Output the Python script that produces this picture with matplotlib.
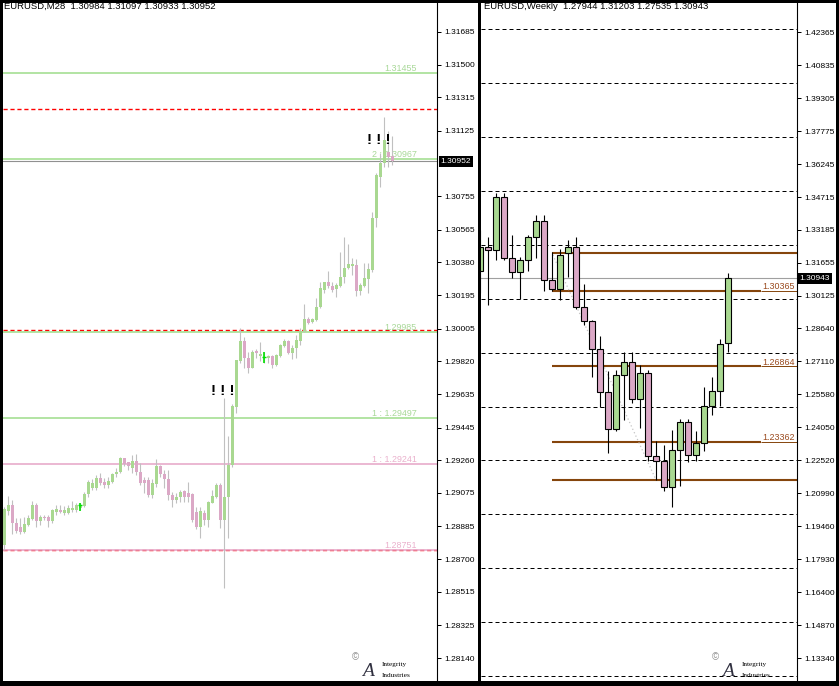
"""Two MT4-style candlestick panels: EURUSD M28 (left) and Weekly (right)."""
import matplotlib
matplotlib.use('Agg')
import matplotlib.pyplot as plt
from matplotlib.patches import Rectangle

plt.rcParams['font.family'] = ['Liberation Sans', 'DejaVu Sans']

# ---------------- left panel data (EURUSD, M28) ----------------
m28_open = [1.28780, 1.28974, 1.29006, 1.28903, 1.28880, 1.28855, 1.28893, 1.28927, 1.29006, 1.28918,
            1.28940, 1.28940, 1.28916, 1.28969, 1.28978, 1.28959, 1.28959, 1.28978, 1.28978, 1.28988,
            1.29003, 1.29069, 1.29101, 1.29101, 1.29157, 1.29139, 1.29120, 1.29139, 1.29180, 1.29191,
            1.29271, 1.29248, 1.29214, 1.29256, 1.29195, 1.29148, 1.29148, 1.29063, 1.29123, 1.29227,
            1.29180, 1.29152, 1.29063, 1.29035, 1.29050, 1.29088, 1.29072, 1.29069, 1.28969, 1.28880,
            1.28963, 1.28921, 1.29020, 1.29054, 1.29120, 1.28921, 1.29050, 1.29233, 1.29563, 1.29822,
            1.29935, 1.29837, 1.29784, 1.29880, 1.29850, 1.29837, 1.29837, 1.29850, 1.29799, 1.29850,
            1.29907, 1.29935, 1.29865, 1.29894, 1.29937, 1.29992, 1.30058, 1.30045, 1.30054, 1.30126,
            1.30224, 1.30267, 1.30249, 1.30230, 1.30249, 1.30299, 1.30347, 1.30360, 1.30366, 1.30218,
            1.30249, 1.30286, 1.30337, 1.30630, 1.30866, 1.30941, 1.31007, 1.30984]
m28_high = [1.28997, 1.29057, 1.29035, 1.28935, 1.28931, 1.28937, 1.28950, 1.29029, 1.29016, 1.28950,
            1.28950, 1.28950, 1.28984, 1.29006, 1.29006, 1.29001, 1.29006, 1.29029, 1.29016, 1.29016,
            1.29082, 1.29148, 1.29152, 1.29176, 1.29186, 1.29157, 1.29167, 1.29186, 1.29218, 1.29280,
            1.29274, 1.29252, 1.29290, 1.29293, 1.29246, 1.29167, 1.29167, 1.29152, 1.29265, 1.29233,
            1.29205, 1.29205, 1.29082, 1.29072, 1.29091, 1.29091, 1.29139, 1.29072, 1.28997, 1.28997,
            1.28978, 1.29029, 1.29091, 1.29129, 1.29133, 1.29610, 1.29397, 1.29580, 1.29830, 1.30007,
            1.29960, 1.29875, 1.29884, 1.29888, 1.29931, 1.29875, 1.29856, 1.29856, 1.29862, 1.29918,
            1.29945, 1.29941, 1.29912, 1.29969, 1.30007, 1.30145, 1.30069, 1.30064, 1.30177, 1.30271,
            1.30271, 1.30333, 1.30271, 1.30262, 1.30441, 1.30526, 1.30484, 1.30403, 1.30398, 1.30262,
            1.30375, 1.30375, 1.30668, 1.30885, 1.30998, 1.31206, 1.31124, 1.31097]
m28_low = [1.28752, 1.28950, 1.28842, 1.28846, 1.28840, 1.28850, 1.28887, 1.28921, 1.28884, 1.28893,
           1.28921, 1.28884, 1.28906, 1.28950, 1.28959, 1.28950, 1.28955, 1.28969, 1.28969, 1.28978,
           1.28997, 1.29054, 1.29091, 1.29091, 1.29120, 1.29101, 1.29101, 1.29129, 1.29167, 1.29186,
           1.29227, 1.29205, 1.29186, 1.29176, 1.29120, 1.29072, 1.29050, 1.29044, 1.29110, 1.29167,
           1.29101, 1.29035, 1.28997, 1.29016, 1.29025, 1.29025, 1.29025, 1.28912, 1.28869, 1.28818,
           1.28893, 1.28884, 1.29016, 1.29048, 1.28874, 1.28535, 1.28818, 1.29220, 1.29529, 1.29812,
           1.29780, 1.29752, 1.29780, 1.29841, 1.29824, 1.29812, 1.29812, 1.29780, 1.29794, 1.29843,
           1.29899, 1.29860, 1.29831, 1.29837, 1.29912, 1.29988, 1.30031, 1.30039, 1.30050, 1.30120,
           1.30205, 1.30233, 1.30215, 1.30186, 1.30243, 1.30265, 1.30341, 1.30309, 1.30192, 1.30196,
           1.30239, 1.30205, 1.30328, 1.30583, 1.30805, 1.30922, 1.30922, 1.30933]
m28_close = [1.28984, 1.29006, 1.28903, 1.28861, 1.28855, 1.28897, 1.28931, 1.29006, 1.28918, 1.28940,
             1.28931, 1.28916, 1.28978, 1.28982, 1.28969, 1.28978, 1.28988, 1.28988, 1.29006, 1.29006,
             1.29069, 1.29139, 1.29133, 1.29157, 1.29133, 1.29120, 1.29144, 1.29180, 1.29191, 1.29274,
             1.29239, 1.29227, 1.29256, 1.29195, 1.29129, 1.29129, 1.29063, 1.29129, 1.29227, 1.29180,
             1.29152, 1.29063, 1.29035, 1.29054, 1.29082, 1.29050, 1.29050, 1.28921, 1.28880, 1.28974,
             1.28921, 1.29025, 1.29059, 1.29120, 1.28921, 1.29050, 1.29233, 1.29567, 1.29828, 1.29935,
             1.29837, 1.29784, 1.29875, 1.29865, 1.29860, 1.29846, 1.29850, 1.29799, 1.29856, 1.29912,
             1.29935, 1.29865, 1.29894, 1.29941, 1.29992, 1.30058, 1.30039, 1.30058, 1.30126, 1.30233,
             1.30267, 1.30249, 1.30224, 1.30252, 1.30299, 1.30347, 1.30371, 1.30371, 1.30218, 1.30252,
             1.30290, 1.30341, 1.30630, 1.30875, 1.30945, 1.31073, 1.30979, 1.30952]

m28_ticks = [1.31685, 1.31500, 1.31315, 1.31125, 1.30755, 1.30565, 1.30380, 1.30195, 1.30005, 1.29820,
             1.29635, 1.29445, 1.29260, 1.29075, 1.28885, 1.28700, 1.28515, 1.28325, 1.28140]
m28_last = 1.30952
m28_round_levels = [1.3125, 1.3000, 1.2875]
m28_green_levels = [1.31455, 1.30967, 1.29985, 1.29497]
m28_green_labels = ['1.31455', '2 : 1.30967', '1.29985', '1 : 1.29497']
m28_pink_levels = [1.29241, 1.28751]
m28_pink_labels = ['1 : 1.29241', '1.28751']
# groups of three warning marks (centre bar index, price of baseline)
m28_warn_x = [54.8, 93.75]
m28_warn_y = [1.29629, 1.31050]
m28_arrow_x = [19, 65]
m28_arrow_top = [1.29019, 1.29875]
m28_arrow_bottom = [1.28974, 1.29812]
m28_arrow_cross = [1.29006, 1.29846]

# ---------------- right panel data (EURUSD, Weekly) ----------------
w_open = [1.31275, 1.32390, 1.32250, 1.34711, 1.31879, 1.31229, 1.31786, 1.32854, 1.33597, 1.30857,
          1.30440, 1.32111, 1.32390, 1.29604, 1.28954, 1.27654, 1.25657, 1.23939, 1.26447, 1.27050,
          1.25332, 1.26540, 1.22686, 1.22454, 1.21246, 1.22964, 1.24264, 1.22732, 1.23289, 1.25007,
          1.25704, 1.27944]
w_high = [1.33179, 1.32854, 1.34897, 1.34897, 1.32947, 1.31925, 1.32947, 1.33875, 1.33875, 1.32158,
          1.32297, 1.32715, 1.32854, 1.30672, 1.29000, 1.28257, 1.26632, 1.26679, 1.27515, 1.27515,
          1.26911, 1.26679, 1.23382, 1.23197, 1.23893, 1.24404, 1.24404, 1.23847, 1.25890, 1.26354,
          1.28118, 1.31203]
w_low = [1.30254, 1.29697, 1.31786, 1.31786, 1.30950, 1.29975, 1.31275, 1.31879, 1.30347, 1.30347,
         1.29929, 1.30997, 1.29511, 1.28768, 1.26354, 1.24961, 1.22825, 1.23847, 1.24357, 1.25147,
         1.23986, 1.22454, 1.21571, 1.21061, 1.20364, 1.21293, 1.22407, 1.22454, 1.22918, 1.24589,
         1.25007, 1.27535]
w_close = [1.32390, 1.32250, 1.34711, 1.31879, 1.31229, 1.31786, 1.32854, 1.33597, 1.30857, 1.30440,
           1.32018, 1.32390, 1.29604, 1.28954, 1.27654, 1.25657, 1.23939, 1.26447, 1.27050, 1.25332,
           1.26540, 1.22686, 1.22454, 1.21246, 1.22964, 1.24264, 1.22732, 1.23289, 1.25007, 1.25704,
           1.27886, 1.30943]

w_ticks = [1.42365, 1.40835, 1.39305, 1.37775, 1.36245, 1.34715, 1.33185, 1.31655, 1.30125, 1.28640,
           1.27110, 1.25580, 1.24050, 1.22520, 1.20990, 1.19460, 1.17930, 1.16400, 1.14870, 1.13340]
w_last = 1.30943
w_grid = [1.425, 1.400, 1.375, 1.350, 1.325, 1.300, 1.275, 1.250, 1.225, 1.200, 1.175, 1.150, 1.125]
w_levels = [1.32140, 1.30365, 1.26864, 1.23362, 1.21600]
w_level_labels = ['', '1.30365', '1.26864', '1.23362', '']
w_swing_x = [9.1, 22.0]
w_swing_y = [1.32030, 1.21600]

GREEN = '#a9d891'
PINK = '#dba8c6'
BROWN = '#85450c'
W, H = 839, 686


def box(x0, y0, x1, y1):
    return [x0 / W, 1 - y1 / H, (x1 - x0) / W, (y1 - y0) / H]


def candles(ax, o, h, l, c, width, wick, edge, lw):
    xs = list(range(len(o)))
    cols = [GREEN if cc >= oo else PINK for oo, cc in zip(o, c)]
    ax.vlines(xs, l, h, color=wick, lw=lw, zorder=3)
    ax.bar(xs, [cc - oo for oo, cc in zip(o, c)], bottom=o, width=width,
           color=cols, edgecolor=edge, linewidth=lw if edge != 'none' else 0, zorder=4)


def style_axis(ax, ticks, pad):
    for s in ['left', 'top', 'bottom']:
        ax.spines[s].set_visible(False)
    ax.spines['right'].set_linewidth(0.8)
    ax.set_xticks([])
    ax.yaxis.tick_right()
    ax.set_yticks(ticks)
    ax.set_yticklabels([f'{t:.5f}' for t in ticks])
    ax.tick_params(axis='y', direction='out', length=3, width=0.72, pad=pad,
                   labelsize=6, colors='black')


fig = plt.figure(figsize=(W / 100, H / 100), dpi=100, facecolor='black')
# white label strips behind the axes
fig.patches.append(Rectangle((3 / W, 1 - 681 / H), 475 / W, 678 / H, zorder=-5,
                             transform=fig.transFigure, facecolor='white', edgecolor='none'))
fig.patches.append(Rectangle((481 / W, 1 - 681 / H), 355 / W, 678 / H, zorder=-5,
                             transform=fig.transFigure, facecolor='white', edgecolor='none'))

# ---------- left ----------
ax = fig.add_axes(box(3, 3, 437, 681))
ax.set_xlim(-0.25, 108.25)
ax.set_ylim(1.28010, 1.31849)
for lv in m28_round_levels:
    ax.axhline(lv, color='#ff0000', lw=1.0, ls=(0, (3, 2)), zorder=1)
for lv, lab in zip(m28_green_levels, m28_green_labels):
    ax.axhline(lv, color='#9edc8a', lw=1.1, zorder=1)
    ax.annotate(lab, (0.954, lv), xycoords=ax.get_yaxis_transform(), xytext=(0, 1.5),
                textcoords='offset points', ha='right', va='baseline', fontsize=6.4,
                color='#a8d898', zorder=2)
for lv, lab in zip(m28_pink_levels, m28_pink_labels):
    ax.axhline(lv, color='#e6a4c6', lw=1.1, zorder=1)
    ax.annotate(lab, (0.954, lv), xycoords=ax.get_yaxis_transform(), xytext=(0, 1.5),
                textcoords='offset points', ha='right', va='baseline', fontsize=6.4,
                color='#eab0cc', zorder=2)
ax.axhline(m28_last, color='#909090', lw=0.8, zorder=2)
candles(ax, m28_open, m28_high, m28_low, m28_close, 0.75, '#c0c0c0', 'none', 0.8)
ax.vlines(m28_arrow_x, m28_arrow_bottom, m28_arrow_top, color='#00e000', lw=1.2, zorder=5)
for xx, yy in zip(m28_arrow_x, m28_arrow_cross):
    ax.hlines(yy, xx - 0.4, xx + 0.4, color='#00e000', lw=1.0, zorder=5)
for xx, yy in zip(m28_warn_x, m28_warn_y):
    ax.text(xx, yy, '! ! !', ha='center', va='baseline', fontsize=11, fontweight='bold',
            color='black', zorder=6)
style_axis(ax, m28_ticks, 2.5)
ax.annotate(f'{m28_last:.5f}', (1.0, m28_last), xycoords=ax.get_yaxis_transform(),
            xytext=(2.6, 0), textcoords='offset points', ha='left', va='center',
            fontsize=6, color='white', annotation_clip=False,
            bbox=dict(boxstyle='square,pad=0.25', facecolor='black', edgecolor='none'))

# ---------- right ----------
ax2 = fig.add_axes(box(481, 3, 797, 681))
ax2.set_xlim(0.125, 39.625)
ax2.set_ylim(1.12274, 1.43710)
for lv in w_grid:
    ax2.axhline(lv, color='black', lw=0.72, ls=(0, (4, 3)), zorder=1)
ax2.axhline(w_last, color='#a0a0a0', lw=0.8, zorder=2)
for lv, lab in zip(w_levels, w_level_labels):
    if lab:
        ax2.hlines(lv, 9, 35.1, color=BROWN, lw=1.5, zorder=2)
        ax2.hlines(lv, 35.1, 39.625, color=BROWN, lw=0.7, zorder=2)
        ax2.annotate(lab, (0.9937, lv), xycoords=ax2.get_yaxis_transform(), xytext=(0, 1.2),
                     textcoords='offset points', ha='right', va='baseline', fontsize=6.4,
                     color='#9a4a1e', zorder=2)
    else:
        ax2.hlines(lv, 9, 39.625, color=BROWN, lw=1.5, zorder=2)
ax2.plot(w_swing_x, w_swing_y, color='#c4c4c4', lw=0.9, ls=(0, (1, 2)), zorder=2)
candles(ax2, w_open, w_high, w_low, w_close, 0.72, 'black', 'black', 0.8)
style_axis(ax2, w_ticks, 2.0)
ax2.annotate(f'{w_last:.5f}', (1.0, w_last), xycoords=ax2.get_yaxis_transform(),
             xytext=(2.0, 0), textcoords='offset points', ha='left', va='center',
             fontsize=6, color='white', annotation_clip=False,
             bbox=dict(boxstyle='square,pad=0.25', facecolor='black', edgecolor='none'))

# titles
fig.text(4 / W, 1 - 2 / H, 'EURUSD,M28  1.30984 1.31097 1.30933 1.30952',
         ha='left', va='top', fontsize=6.8, color='black')
fig.text(484 / W, 1 - 2 / H, 'EURUSD,Weekly  1.27944 1.31203 1.27535 1.30943',
         ha='left', va='top', fontsize=6.8, color='black')

# logos
for dx in (0, 360):
    fig.text((352 + dx) / W, 1 - 660 / H, '\u00a9', fontsize=7, color='#909090')
    fig.text((362 + dx) / W, 1 - 676 / H, 'A', fontsize=14, style='italic',
             family='Liberation Serif', color='#303040')
    fig.text((382 + dx) / W, 1 - 666 / H, 'Integrity', fontsize=5.2,
             family='Liberation Serif', color='black')
    fig.text((382 + dx) / W, 1 - 677 / H, 'Industries', fontsize=5.2,
             family='Liberation Serif', color='black')

fig.savefig('out.png', dpi=100, facecolor='black')
